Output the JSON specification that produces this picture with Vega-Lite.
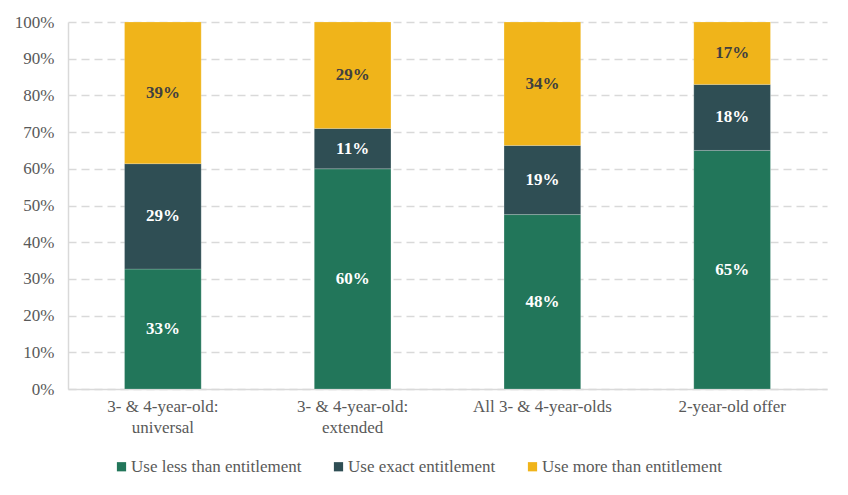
{
  "$schema": "https://vega.github.io/schema/vega-lite/v6.json",
  "width": 759,
  "height": 367,
  "padding": {"left": 68, "top": 22, "right": 21, "bottom": 106},
  "autosize": {"type": "none"},
  "background": "white",
  "config": {
    "font": "Liberation Serif, serif",
    "view": {"stroke": null},
    "axisY": {
      "title": null,
      "format": ".0%",
      "values": [0, 0.1, 0.2, 0.3, 0.4, 0.5, 0.6, 0.7, 0.8, 0.9, 1],
      "labelFont": "Liberation Serif, serif",
      "labelFontSize": 17,
      "labelColor": "#595959",
      "labelPadding": 14,
      "ticks": false,
      "domainColor": "#d9d9d9",
      "domainWidth": 1.5,
      "gridColor": "#d9d9d9",
      "gridWidth": 1.5,
      "gridDash": [8, 5]
    }
  },
  "data": {
    "values": [
      {"group": "3- & 4-year-old:\nuniversal", "use": "Use less than entitlement", "k": 1, "pct": 0.33},
      {"group": "3- & 4-year-old:\nuniversal", "use": "Use exact entitlement", "k": 2, "pct": 0.29},
      {"group": "3- & 4-year-old:\nuniversal", "use": "Use more than entitlement", "k": 3, "pct": 0.39},
      {"group": "3- & 4-year-old:\nextended", "use": "Use less than entitlement", "k": 1, "pct": 0.60},
      {"group": "3- & 4-year-old:\nextended", "use": "Use exact entitlement", "k": 2, "pct": 0.11},
      {"group": "3- & 4-year-old:\nextended", "use": "Use more than entitlement", "k": 3, "pct": 0.29},
      {"group": "All 3- & 4-year-olds", "use": "Use less than entitlement", "k": 1, "pct": 0.48},
      {"group": "All 3- & 4-year-olds", "use": "Use exact entitlement", "k": 2, "pct": 0.19},
      {"group": "All 3- & 4-year-olds", "use": "Use more than entitlement", "k": 3, "pct": 0.34},
      {"group": "2-year-old offer", "use": "Use less than entitlement", "k": 1, "pct": 0.65},
      {"group": "2-year-old offer", "use": "Use exact entitlement", "k": 2, "pct": 0.18},
      {"group": "2-year-old offer", "use": "Use more than entitlement", "k": 3, "pct": 0.17}
    ]
  },
  "transform": [
    {"stack": "pct", "groupby": ["group"], "sort": [{"field": "k", "order": "ascending"}], "offset": "normalize", "as": ["y0", "y1"]}
  ],
  "encoding": {
    "x": {
      "field": "group",
      "type": "nominal",
      "sort": null,
      "scale": {"paddingInner": 0.596, "paddingOuter": 0.298},
      "axis": {
        "title": null,
        "labelAngle": 0,
        "labelExpr": "split(datum.label, '\\n')",
        "labelFont": "Liberation Serif, serif",
        "labelFontSize": 17,
        "labelColor": "#595959",
        "labelLineHeight": 21,
        "labelPadding": 9,
        "ticks": false,
        "domainColor": "#d9d9d9",
        "domainWidth": 1.5
      }
    }
  },
  "layer": [
    {
      "mark": {"type": "bar", "stroke": "#ffffff", "strokeOpacity": 0.25, "strokeWidth": 0.75},
      "encoding": {
        "y": {
          "field": "y0",
          "type": "quantitative",
          "scale": {"domain": [0, 1], "nice": false}
        },
        "y2": {"field": "y1"},
        "color": {
          "field": "use",
          "type": "nominal",
          "scale": {
            "domain": ["Use less than entitlement", "Use exact entitlement", "Use more than entitlement"],
            "range": ["#22765a", "#2f4e54", "#f0b41a"]
          },
          "legend": {
            "title": null,
            "orient": "none",
            "direction": "horizontal",
            "legendX": 45,
            "legendY": 436,
            "symbolType": "square",
            "symbolSize": 85,
            "symbolStrokeWidth": 0,
            "labelFont": "Liberation Serif, serif",
            "labelFontSize": 17,
            "labelColor": "#595959",
            "labelLimit": 400,
            "labelOffset": 1,
            "columnPadding": 28
          }
        }
      }
    },
    {
      "transform": [
        {"fold": ["y0", "y1"], "as": ["edge", "yEdge"]},
        {"aggregate": [{"op": "mean", "field": "yEdge", "as": "yMid"}], "groupby": ["group", "use", "k", "pct"]}
      ],
      "mark": {"type": "text", "font": "Liberation Serif, serif", "fontSize": 17, "fontWeight": "bold", "baseline": "middle"},
      "encoding": {
        "y": {"field": "yMid", "type": "quantitative"},
        "text": {"field": "pct", "type": "quantitative", "format": ".0%"},
        "color": {
          "condition": {"test": "datum.k == 3", "value": "#404040"},
          "value": "white"
        }
      }
    }
  ]
}
